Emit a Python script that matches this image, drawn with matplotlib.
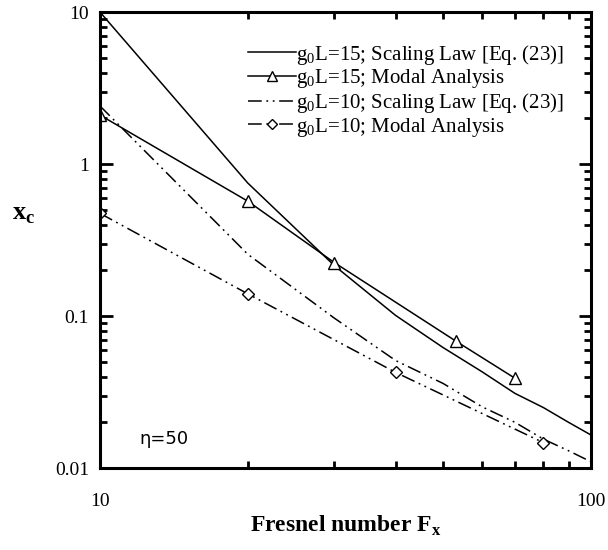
#  Critical x_c versus Fresnel number, log-log
import matplotlib
matplotlib.use('Agg')
from matplotlib import pyplot as plt
from matplotlib.ticker import NullFormatter

#  g0L=15, scaling law
F_scal15 = [10, 20, 30, 40, 50, 60, 70, 80, 90, 100]
x_scal15 = [10.0, 0.75, 0.215, 0.101, 0.062, 0.043, 0.031, 0.025, 0.020, 0.0165]
#  g0L=15, modal analysis
F_modal15 = [10, 20, 30, 53, 70]
x_modal15 = [2.1, 0.57, 0.225, 0.0686, 0.039]
#  g0L=10, scaling law
F_scal10 = [10, 20, 30, 40, 50, 60, 70, 80, 90, 100]
x_scal10 = [2.41, 0.255, 0.097, 0.051, 0.036, 0.0253, 0.020, 0.0155, 0.013, 0.011]
#  g0L=10, modal analysis
F_modal10 = [10, 20, 40, 80]
x_modal10 = [0.474, 0.14, 0.0426, 0.0147]

plt.rcParams['font.family'] = ['Liberation Serif', 'DejaVu Serif']
plt.rcParams['mathtext.fontset'] = 'custom'
plt.rcParams['mathtext.rm'] = 'Liberation Serif'
plt.rcParams['mathtext.bf'] = 'Liberation Serif:bold'

fig = plt.figure(figsize=(6.08, 5.5), dpi=100)
ax = fig.add_axes([0.1645, 0.149, 0.8075, 0.829])

dd = (0, (9, 3, 1.2, 3, 1.2, 3))
ax.plot(F_scal15, x_scal15, color='black', lw=1.1,
        label='g$_0$L=15; Scaling Law [Eq. (23)]')
ax.plot(F_modal15, x_modal15, color='black', lw=1.1, marker='^', ms=9,
        mfc='white', mec='black', mew=1.0,
        label='g$_0$L=15; Modal Analysis')
ax.plot(F_scal10, x_scal10, color='black', lw=1.1, ls=dd,
        label='g$_0$L=10; Scaling Law [Eq. (23)]')
ax.plot(F_modal10, x_modal10, color='black', lw=1.1, ls=dd, marker='D', ms=6,
        mfc='white', mec='black', mew=1.0,
        label='g$_0$L=10; Modal Analysis')

ax.set_xscale('log')
ax.set_yscale('log')
ax.set_xlim(10, 100)
ax.set_ylim(0.01, 10)
ax.set_xticks([10, 100])
ax.set_xticklabels(['10', '100'])
ax.set_yticks([0.01, 0.1, 1, 10])
ax.set_yticklabels(['0.01', '0.1', '1', '10'])
ax.xaxis.set_minor_formatter(NullFormatter())
ax.yaxis.set_minor_formatter(NullFormatter())

for s in ax.spines.values():
    s.set_linewidth(2.2)
ax.tick_params(which='both', direction='in', top=True, right=True, labelsize=14,
               width=2.0)
ax.tick_params(which='major', length=9)
ax.tick_params(which='minor', length=5)
ax.tick_params(axis='x', which='major', pad=18)
ax.tick_params(axis='y', which='major', pad=8)

ax.set_xlabel('Fresnel number F$_\\mathbf{x}$', fontsize=17, fontweight='bold',
              labelpad=3)
ax.set_ylabel('x$_\\mathbf{c}$', fontsize=19, fontweight='bold', rotation=0)
ax.yaxis.set_label_coords(-0.155, 0.53)

ax.text(12.0, 0.0145, 'η=50', fontsize=13, family='DejaVu Sans')

ax.legend(loc='upper right', bbox_to_anchor=(0.975, 0.965), frameon=False,
          fontsize=15, handlelength=2.3, handletextpad=0.0, labelspacing=0.03,
          borderaxespad=0.3, markerscale=0.8)

plt.savefig('out.png', dpi=100)
